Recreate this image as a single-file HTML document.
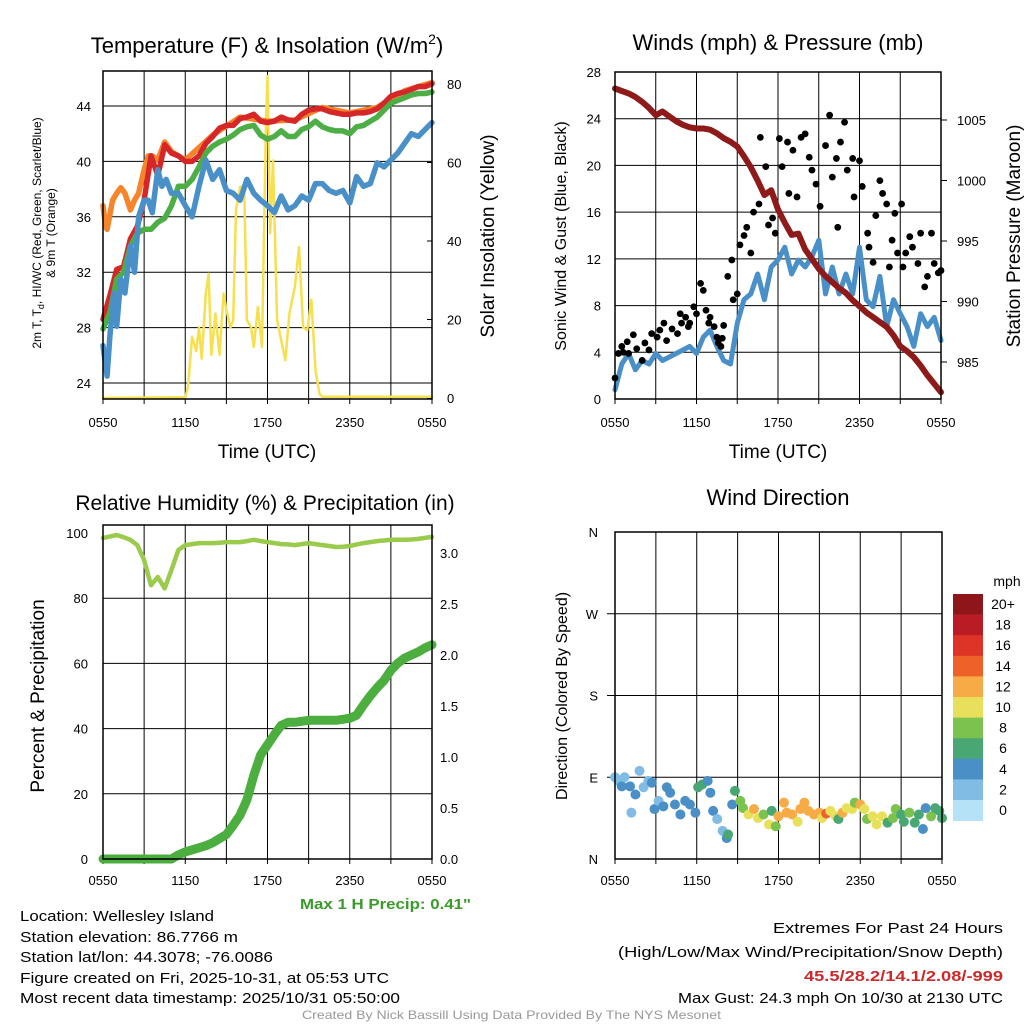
<!DOCTYPE html>
<html><head><meta charset="utf-8">
<style>
html,body{margin:0;padding:0;background:#fff;}
svg{display:block;font-family:"Liberation Sans",sans-serif;}
</style></head>
<body>
<svg id="fig" width="1024" height="1024" viewBox="0 0 1024 1024">
  <g id="p1"></g>
  <g id="p2"></g>
  <g id="p3"></g>
  <g id="p4"></g>
  <g id="info">
    <text x="20" y="921" font-size="15" textLength="194" lengthAdjust="spacingAndGlyphs">Location: Wellesley Island</text>
    <text x="20" y="942" font-size="15" textLength="218" lengthAdjust="spacingAndGlyphs">Station elevation: 86.7766 m</text>
    <text x="20" y="962" font-size="15" textLength="253" lengthAdjust="spacingAndGlyphs">Station lat/lon: 44.3078; -76.0086</text>
    <text x="20" y="983" font-size="15" textLength="369" lengthAdjust="spacingAndGlyphs">Figure created on Fri, 2025-10-31, at 05:53 UTC</text>
    <text x="20" y="1003" font-size="15" textLength="380" lengthAdjust="spacingAndGlyphs">Most recent data timestamp: 2025/10/31 05:50:00</text>
    <text x="300" y="909" font-size="15" font-weight="bold" fill="#3a9a2a" textLength="171" lengthAdjust="spacingAndGlyphs">Max 1 H Precip: 0.41"</text>
    <text x="773" y="933" font-size="15" textLength="230" lengthAdjust="spacingAndGlyphs">Extremes For Past 24 Hours</text>
    <text x="618" y="957" font-size="15" textLength="385" lengthAdjust="spacingAndGlyphs">(High/Low/Max Wind/Precipitation/Snow Depth)</text>
    <text x="804" y="981" font-size="15" font-weight="bold" fill="#cc2a2a" textLength="199" lengthAdjust="spacingAndGlyphs">45.5/28.2/14.1/2.08/-999</text>
    <text x="678" y="1003" font-size="15" textLength="325" lengthAdjust="spacingAndGlyphs">Max Gust: 24.3 mph On 10/30 at 2130 UTC</text>
    <text x="302" y="1019" font-size="12" fill="#999" textLength="419" lengthAdjust="spacingAndGlyphs">Created By Nick Bassill Using Data Provided By The NYS Mesonet</text>
  </g>
</svg>
<script>
// ---- data ----
const hours = [0,0.5,1,1.5,2,2.5,3,3.5,4,4.5,5,5.5,6,6.5,7,7.5,8,8.5,9,9.5,10,10.5,11,11.5,12,12.5,13,13.5,14,14.5,15,15.5,16,16.5,17,17.5,18,18.5,19,19.5,20,20.5,21,21.5,22,22.5,23,23.5,24];
const xTickLabels = ["0550","1150","1750","2350","0550"];
const tempRed = [28.6,30.3,32.2,32.4,34.4,35.3,37.2,40.4,39.0,41.2,40.6,40.4,40.0,40.0,40.4,41.3,41.8,42.4,42.6,42.6,43.1,43.2,43.4,42.9,42.8,42.9,43.2,43.0,42.9,43.4,43.7,43.8,43.8,43.6,43.5,43.4,43.4,43.5,43.5,43.6,43.8,44.2,44.7,44.9,45.0,45.2,45.4,45.4,45.6];
const tempGreen = [27.9,29.1,31.5,32.0,33.9,34.8,35.1,35.1,35.6,35.9,36.8,38.2,38.2,38.7,39.6,40.6,41.1,41.4,41.6,41.9,42.3,42.5,42.6,41.9,41.6,41.8,42.2,41.8,41.8,42.3,42.5,42.9,42.5,42.3,42.2,42.2,42.0,42.5,42.6,42.9,43.2,43.7,44.2,44.4,44.6,44.8,44.9,44.9,45.0];
const orangeHours = [0,0.2,0.3,0.7,1,1.3,1.6,2,2.3,2.6,3,3.3,3.6,4,4.5,5,6,8,10,12,14,16,18,20,22,24];
const tempOrange = [36.8,35.3,35.1,37.2,37.7,38.1,37.7,36.5,37.2,37.7,39.4,40.4,40.4,40.1,41.4,40.7,40.1,41.9,43.2,42.9,43.0,43.9,43.5,43.9,45.1,45.7];
const dewHours = [0,0.3,0.5,0.8,1,1.3,1.6,2,2.3,2.6,3,3.3,3.6,4,4.3,4.6,5,5.5,6,6.5,7,7.5,8,8.5,9,9.5,10,10.5,11,11.5,12,12.5,13,13.5,14,14.5,15,15.5,16,16.5,17,17.5,18,18.5,19,19.5,20,20.5,21,21.5,22,22.5,23,23.5,24];
const tempBlue = [26.7,24.5,27.4,30.5,28.1,31.5,30.5,33.9,32.0,36.0,37.2,37.2,36.3,39.4,38.2,38.7,37.7,37.7,36.8,36.0,38.2,40.1,38.7,39.4,37.9,37.7,37.2,38.7,37.7,37.2,36.8,36.3,37.5,36.5,36.8,37.5,37.2,38.4,38.4,37.9,37.7,37.9,37.0,38.9,38.2,38.4,39.9,39.6,40.1,40.6,41.3,42.0,41.8,42.3,42.8];
const solarHours = [0,6,6.2,6.5,6.8,7,7.2,7.5,7.7,7.9,8.2,8.5,8.8,9,9.3,9.5,9.7,10,10.3,10.5,10.8,11,11.3,11.6,11.9,12,12.2,12.4,12.7,13,13.3,13.6,14,14.3,14.6,14.9,15.2,15.5,15.8,16,24];
const solar = [0,0.2,2.8,15.6,12,18,10,26.6,31.7,11,21.5,11,26.6,22.4,18,19.8,47.9,53.8,53.8,19.8,18,13,23.2,13,72.1,82,42,60.5,19.8,14.7,9.6,21.5,28.3,38.5,18,17.3,25,7,1,0.3,0.3];
const tempTicks = [24,28,32,36,40,44];
const solarTicks = [0,20,40,60,80];

const pressure = [1007.6,1007.4,1007.2,1006.9,1006.5,1006.0,1005.4,1005.7,1005.3,1004.9,1004.6,1004.4,1004.3,1004.3,1004.2,1003.9,1003.5,1003.2,1002.8,1002.0,1001.1,1000.0,998.8,999.2,997.6,996.5,995.5,995.6,994.3,993.5,992.7,992.1,991.6,991.1,990.7,990.1,989.6,989.1,988.7,988.3,987.9,987.2,986.3,985.9,985.4,984.7,983.9,983.2,982.5];
const windSpeed = [0.8,3.0,3.9,2.5,3.3,3.0,3.9,3.3,3.6,3.9,4.2,4.5,3.9,5.3,5.9,4.5,3.3,3.0,6.5,8.5,9.0,10.7,8.5,11.3,11.9,13.0,10.7,11.9,11.3,12.2,13.6,9.0,11.3,9.0,10.7,9.0,13.0,8.5,7.9,10.5,6.2,8.5,7.3,6.2,4.5,7.3,6.2,7.0,5.0];
const gustHours = [0,0.25,0.5,0.6,0.9,1.0,1.35,1.6,2.0,2.2,2.5,2.7,3.1,3.3,3.6,3.8,4.2,4.6,4.8,4.9,5.2,5.4,5.5,5.8,6.0,6.3,6.5,6.7,6.9,7.0,7.3,7.5,7.6,7.8,7.9,8.0,8.3,8.6,8.7,9.0,9.2,9.5,9.7,10.0,10.2,10.6,10.7,11.1,11.3,11.6,11.8,12.1,12.3,12.7,12.8,13.1,13.4,13.7,14.0,14.3,14.5,14.8,15.1,15.5,15.8,16.0,16.3,16.4,16.6,16.9,17.1,17.5,17.6,18.0,18.2,18.6,18.7,19.0,19.2,19.5,19.7,20.0,20.2,20.4,20.6,20.8,21.1,21.2,21.4,21.7,21.9,22.3,22.5,22.8,23.0,23.3,23.5,23.8,24.0];
const gustSpeed = [1.8,3.9,4.5,4.0,4.9,3.9,5.5,4.3,3.3,4.8,4.2,5.6,5.3,5.9,6.5,5.0,6.0,5.6,7.3,6.5,7.0,6.2,6.5,7.9,7.3,9.9,9.3,7.6,6.5,7.0,6.2,5.3,4.8,4.5,5.2,6.3,10.5,11.9,8.5,9.0,13.2,14.0,14.7,12.5,16.0,16.7,22.4,19.9,14.9,15.5,14.2,22.3,19.9,22.0,17.6,21.3,17.3,22.4,22.7,20.7,19.6,18.4,16.5,21.7,24.3,19.0,20.6,14.7,22.0,23.7,19.6,20.6,17.3,20.4,18.2,14.2,13.0,11.7,15.7,18.7,17.6,16.7,11.3,13.6,15.9,12.5,16.7,11.3,12.5,13.9,13.0,11.6,14.2,9.6,10.5,14.2,11.6,10.8,11.0];
const windTicks = [0,4,8,12,16,20,24,28];
const pressTicks = [985,990,995,1000,1005];

const rh = [98.5,98.9,99.4,98.7,97.9,96.3,91.7,84.0,86.5,83.0,88.7,94.8,96.3,96.6,96.9,96.9,96.9,97.0,97.2,97.2,97.2,97.5,97.9,97.5,97.2,96.9,96.6,96.5,96.3,96.6,96.9,96.6,96.3,96.0,95.7,95.8,96.0,96.5,96.9,97.2,97.5,97.7,97.9,97.9,97.9,98.0,98.2,98.5,98.8];
const precip = [0,0,0,0,0,0,0,0,0,0,0,0.04,0.07,0.09,0.11,0.13,0.16,0.2,0.24,0.33,0.43,0.58,0.82,1.02,1.12,1.22,1.31,1.34,1.34,1.35,1.36,1.36,1.36,1.36,1.36,1.37,1.38,1.41,1.51,1.6,1.68,1.75,1.85,1.92,1.97,2.0,2.03,2.07,2.1];
const rhTicks = [0,20,40,60,80,100];
const precipTicks = ["0.0","0.5","1.0","1.5","2.0","2.5","3.0"];

const dirHours = [0,0.25,0.5,0.7,1.1,1.2,1.5,1.8,2.1,2.45,2.7,2.9,3.2,3.55,3.8,4.05,4.4,4.8,5.15,5.5,5.9,6.1,6.4,6.8,7.0,7.2,7.5,7.9,8.2,8.3,8.6,8.8,9.2,9.4,9.8,10.2,10.5,10.9,11.3,11.5,11.8,12.0,12.4,12.6,13.0,13.4,13.6,13.9,14.2,14.6,15.0,15.2,15.5,15.8,16.2,16.4,16.7,17.0,17.4,17.6,18.0,18.3,18.5,18.9,19.2,19.6,20.0,20.4,20.6,21.0,21.2,21.6,22.0,22.3,22.6,22.8,23.2,23.5,23.8,24.0];
const dirDeg = [90,86,80,90,80,51,71,97,79,86,84,55,64,58,79,73,60,49,64,60,51,79,82,86,73,53,44,31,23,27,60,75,64,56,49,55,45,49,38,53,36,47,62,51,49,41,55,62,53,49,51,45,50,53,47,44,51,56,55,62,60,55,44,47,38,47,40,45,55,49,41,51,40,49,33,56,47,56,53,45];
const dirSpeed = [2,2,4,2,4,2,4,2,2,2,4,4,2,4,4,4,4,4,4,4,4,6,6,4,4,4,2,2,4,6,4,6,8,8,10,12,10,8,10,6,8,12,12,12,12,10,12,12,12,12,12,10,14,10,10,6,12,10,10,8,12,10,8,10,10,10,6,8,8,6,6,8,6,6,4,4,8,6,6,6];
const speedBins = ["0","2","4","6","8","10","12","14","16","18","20+"];
const binColors = ["#b5e2f7","#80bce4","#4a8fc6","#48a772","#7cc24f","#e8e05b","#f6ab46","#ee6229","#dd3427","#ba1c25","#8e1519"];
const dirLabels = ["N","E","S","W","N"];

// ---- helpers ----
const NS = "http://www.w3.org/2000/svg";
function mk(parent, tag, attrs, txt) {
  const e = document.createElementNS(NS, tag);
  for (const k in attrs) e.setAttribute(k, attrs[k]);
  if (txt !== undefined) e.textContent = txt;
  parent.appendChild(e);
  return e;
}
function lin(d0, d1, r0, r1) { return v => r0 + (v - d0) * (r1 - r0) / (d1 - d0); }
function pathD(xs, ys, fx, fy) { return xs.map((x,i)=>(i?"L":"M")+fx(x).toFixed(1)+","+fy(ys[i]).toFixed(1)).join(""); }

function frame(g, L, R, T, B, ty) {
  const xs = lin(0, 24, L, R);
  for (let h = 3; h < 24; h += 3) {
    const v = mk(g, "line", {x1: xs(h), x2: xs(h), y1: T, y2: B, stroke: "#000", "stroke-width": 1});
    
    
  }
  for (let i = 0; i < xTickLabels.length; i++) {
    const t = mk(g, "text", {x: xs(i*6), y: ty, "font-size": 13, "text-anchor": "middle"}, xTickLabels[i]);
    
    
  }
  for (let h = 0; h <= 24; h += 3) {
    const tk = mk(g, "line", {x1: xs(h), x2: xs(h), y1: B, y2: B + 5, stroke: "#000", "stroke-width": 1});
    
    
  }
  return xs;
}
function box(g, L, R, T, B) {
  const b = mk(g, "rect", {x: L, y: T, width: R - L, height: B - T, fill: "none", stroke: "#000", "stroke-width": 1.5});
  
  
}
function hgrid(g, L, R, y) {
  const l = mk(g, "line", {x1: L, x2: R, y1: y, y2: y, stroke: "#000", "stroke-width": 1});
  
  
}
function label(g, x, y, txt, anchor, size, name, rot) {
  const a = {x: x, y: y, "font-size": size, "text-anchor": anchor};
  if (rot) a.transform = "rotate(-90 " + x + " " + y + ")";
  const t = mk(g, "text", a, txt);
  
  
  return t;
}
function series(g, d, color, w, name) {
  const p = mk(g, "path", {d: d, fill: "none", stroke: color, "stroke-width": w, "stroke-linejoin": "round", "stroke-linecap": "round"});
  
  
}

// ---- Panel 1: temperature ----
(function(){
  const g = document.getElementById("p1");
  const L = 103, R = 432, T = 71, B = 399;
  const xs = frame(g, L, R, T, B, 427);
  const yT = lin(24, 44, 383, 106);
  const yS = lin(0, 80, 398, 84);
  tempTicks.forEach(v => { hgrid(g, L, R, yT(v)); label(g, 91, yT(v) + 5, String(v), "end", 13, "temp-tick-label"); });
  solarTicks.forEach(v => {
    label(g, 447, yS(v) + 5, String(v), "start", 13, "solar-tick-label");
    const tk = mk(g, "line", {x1: R - 5, x2: R, y1: yS(v), y2: yS(v), stroke: "#000"});
    
    
  });
  series(g, pathD(solarHours, solar, xs, yS), "#f7e04f", 2.5, "solar-insolation-line");
  series(g, pathD(orangeHours, tempOrange, xs, yT), "#f5842b", 5.5, "temp-9m-line");
  series(g, pathD(hours, tempRed, xs, yT), "#d62728", 5.5, "temp-2m-line");
  series(g, pathD(hours, tempGreen, xs, yT), "#4cae45", 5.5, "heat-index-line");
  series(g, pathD(dewHours, tempBlue, xs, yT), "#4a90c8", 5.5, "dewpoint-line");
  box(g, L, R, T, B);
  const ti = label(g, 267, 53, "Temperature (F) & Insolation (W/m", "middle", 22, "temp-panel-title");
  const sup = mk(ti, "tspan", {dy: -9, "font-size": 14}, "2");
  
  
  const cl = mk(ti, "tspan", {dy: 9}, ")");
  
  
  label(g, 267, 458, "Time (UTC)", "middle", 19, "temp-x-axis-title");
  const yt = label(g, 41, 233, "2m T, T", "middle", 12, "temp-y-axis-title", true);
  const sb = mk(yt, "tspan", {dy: 3, "font-size": 9}, "d");
  
  
  const rest = mk(yt, "tspan", {dy: -3}, ", HI/WC (Red, Green, Scarlet/Blue)");
  
  
  label(g, 55, 233, "& 9m T (Orange)", "middle", 12, "temp-y-axis-title-2", true);
  label(g, 494, 236, "Solar Insolation (Yellow)", "middle", 19, "solar-y-axis-title", true);
})();

// ---- Panel 2: winds ----
(function(){
  const g = document.getElementById("p2");
  const L = 615, R = 941, T = 72, B = 399;
  const xs = frame(g, L, R, T, B, 427);
  const yW = lin(0, 28, 399, 72);
  const yP = lin(985, 1005, 362, 120);
  windTicks.forEach(v => { if (v > 0 && v < 28) hgrid(g, L, R, yW(v)); label(g, 601, yW(v) + 5, String(v), "end", 13, "wind-tick-label"); });
  pressTicks.forEach(v => {
    label(g, 957, yP(v) + 5, String(v), "start", 13, "pressure-tick-label");
    const tk = mk(g, "line", {x1: R, x2: R + 6, y1: yP(v), y2: yP(v), stroke: "#000"});
    
    
  });
  series(g, pathD(hours, windSpeed, xs, yW), "#4a90c8", 5, "sonic-wind-line");
  series(g, pathD(hours, pressure, xs, yP), "#8e1a1a", 6, "pressure-line");
  gustHours.forEach((h, i) => {
    const c = mk(g, "circle", {cx: xs(h), cy: yW(gustSpeed[i]), r: 3.4, fill: "#000"});
    
    
  });
  box(g, L, R, T, B);
  label(g, 778, 50, "Winds (mph) & Pressure (mb)", "middle", 22, "winds-panel-title");
  label(g, 778, 458, "Time (UTC)", "middle", 19, "winds-x-axis-title");
  label(g, 566, 236, "Sonic Wind & Gust (Blue, Black)", "middle", 16, "wind-y-axis-title", true);
  label(g, 1020, 236, "Station Pressure (Maroon)", "middle", 19, "pressure-y-axis-title", true);
})();

// ---- Panel 3: humidity ----
(function(){
  const g = document.getElementById("p3");
  const L = 103, R = 432, T = 525, B = 859;
  const xs = frame(g, L, R, T, B, 885);
  const yR = lin(0, 100, 859, 533);
  const yPr = lin(0, 3, 859, 553);
  rhTicks.forEach(v => { if (v > 0 && v < 100) hgrid(g, L, R, yR(v)); label(g, 88, yR(v) + 5, String(v), "end", 13, "rh-tick-label"); });
  precipTicks.forEach(s => label(g, 440, yPr(parseFloat(s)) + 5, s, "start", 13, "precip-tick-label"));
  series(g, pathD(hours, precip, xs, yPr), "#4cae3e", 9, "precip-line");
  series(g, pathD(hours, rh, xs, yR), "#9acb4d", 4.5, "rh-line");
  box(g, L, R, T, B);
  label(g, 265, 510, "Relative Humidity (%) & Precipitation (in)", "middle", 21, "humidity-panel-title");
  label(g, 44, 696, "Percent & Precipitation", "middle", 19, "rh-y-axis-title", true);
})();

// ---- Panel 4: wind direction ----
(function(){
  const g = document.getElementById("p4");
  const L = 615, R = 942, T = 532, B = 859;
  const xs = frame(g, L, R, T, B, 885);
  const yD = lin(0, 360, 859, 532);
  dirLabels.forEach((s, i) => {
    const v = i * 90;
    if (v > 0 && v < 360) hgrid(g, L - 8, R, yD(v));
    label(g, 598, yD(v) + 5, s, "end", 13, "direction-tick-label");
  });
  dirHours.forEach((h, i) => {
    const bi = Math.min(10, Math.floor(dirSpeed[i] / 2));
    const c = mk(g, "circle", {cx: xs(h), cy: yD(dirDeg[i]), r: 5, fill: binColors[bi]});
    
    
  });
  box(g, L, R, T, B);
  label(g, 778, 505, "Wind Direction", "middle", 22, "direction-panel-title");
  label(g, 567, 696, "Direction (Colored By Speed)", "middle", 16, "direction-y-axis-title", true);
  // colorbar
  const cb = mk(g, "g", {});
  
  
  const top = 594, hh = 20.6;
  for (let i = 0; i < speedBins.length; i++) {
    const k = speedBins.length - 1 - i;
    const r = mk(cb, "rect", {x: 953, y: top + i * hh, width: 30, height: hh + 0.3, fill: binColors[k]});
    
    
    label(cb, 1003, top + i * hh + 15, speedBins[k], "middle", 14, "colorbar-label");
  }
  label(cb, 1007, 586, "mph", "middle", 14, "colorbar-title");
})();
</script>
</body></html>
